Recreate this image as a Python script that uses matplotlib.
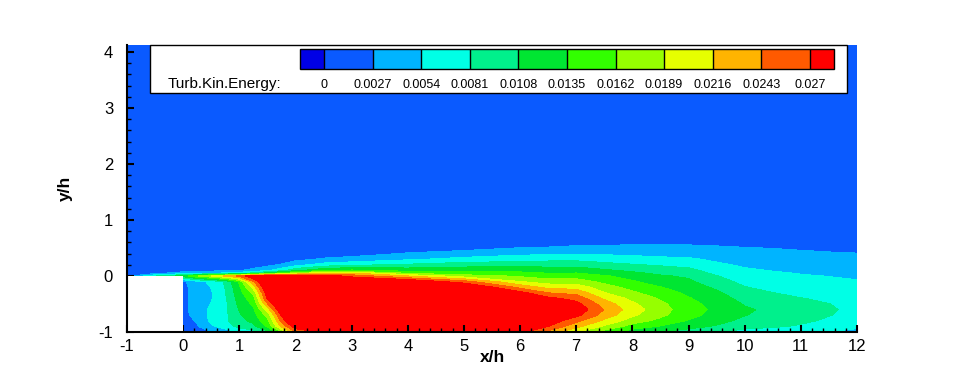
import numpy as np
import matplotlib
matplotlib.use("Agg")
import matplotlib.pyplot as plt
from matplotlib.colors import ListedColormap, BoundaryNorm
from matplotlib.patches import Rectangle
from matplotlib.ticker import MultipleLocator

plt.rcParams['font.family'] = ['Liberation Sans', 'DejaVu Sans']

# ---------------- data (TKE, units of 1e-3) ----------------
x_nodes = [-1.0, -0.5, 0.0, 0.25, 0.5, 0.75, 1.0, 1.25, 1.5, 1.75, 2.0, 2.5,
           3.0, 4.0, 5.0, 6.0, 6.5, 7.0, 7.5, 8.0, 8.5, 9.0, 9.5, 10.0, 10.5,
           11.0, 11.5, 12.0]
y_nodes = [-1.0, -0.9, -0.8, -0.7, -0.6, -0.5, -0.4, -0.3, -0.2, -0.1, 0.0,
           0.05, 0.1, 0.2, 0.3, 0.4, 0.5, 0.6, 0.8, 4.2]

# one vertical profile (bottom -> top, at y_nodes) per x station
tke_xm100 = [0, 0, 0, 0, 0, 0, 0, 0, 0, 0, 2.0, 1.0, 1.0, 1, 1, 1, 1, 1, 1, 1]
tke_xm050 = [0, 0, 0, 0, 0, 0, 0, 0, 0, 0, 8.0, 2.0, 1.0, 1, 1, 1, 1, 1, 1, 1]
tke_x000 = [1.0, 1.2, 1.5, 2.0, 2.0, 2.0, 2.0, 2.0, 2.0, 2.2, 12.0, 4.0, 1.5, 1, 1, 1, 1, 1, 1, 1]
tke_x025 = [1.5, 2.5, 3.0, 3.5, 4.0, 4.0, 4.0, 4.0, 4.0, 4.5, 16.0, 4.5, 1.8, 1, 1, 1, 1, 1, 1, 1]
tke_x050 = [2.5, 5.0, 6.0, 6.2, 6.0, 5.5, 5.2, 5.2, 5.5, 6.0, 19.0, 5.0, 2.0, 1, 1, 1, 1, 1, 1, 1]
tke_x075 = [4.0, 6.5, 7.5, 7.5, 7.5, 7.5, 7.8, 8.0, 8.2, 8.5, 22.0, 6.0, 2.2, 1, 1, 1, 1, 1, 1, 1]
tke_x100 = [6.0, 9.0, 10.0, 10.5, 11.0, 11.5, 12.0, 12.5, 13.0, 14.0, 25.0, 7.0, 2.5, 1.2, 1, 1, 1, 1, 1, 1]
tke_x125 = [7.0, 10.0, 11.5, 12.5, 13.0, 14.0, 15.0, 17.0, 20.0, 24.0, 30.0, 9.0, 3.5, 1.3, 1, 1, 1, 1, 1, 1]
tke_x150 = [10.0, 14.0, 15.5, 17.0, 20.0, 24.0, 27.5, 29.0, 31.0, 32.0, 32.0, 12.0, 5.0, 2.0, 1, 1, 1, 1, 1, 1]
tke_x175 = [16.0, 22.0, 25.0, 27.5, 30.0, 32, 32, 32, 32, 32, 32.0, 15.0, 7.0, 3.0, 1.2, 1, 1, 1, 1, 1]
tke_x200 = [24.0, 29.0, 32, 32, 32, 32, 32, 32, 32, 32, 30.0, 18.0, 10.0, 4.5, 2.0, 1.0, 1, 1, 1, 1]
tke_x250 = [28.0, 31.0, 32, 32, 32, 32, 32, 32, 32, 32, 29.0, 21.0, 13.0, 6.5, 3.0, 1.5, 1.0, 1, 1, 1]
tke_x300 = [29.0, 32, 32, 32, 32, 32, 32, 32, 32, 32, 26.0, 22.0, 14.0, 7.5, 3.5, 1.8, 1.0, 1, 1, 1]
tke_x400 = [30.0, 32, 32, 32, 32, 32, 32, 32, 32, 30.0, 21.7, 16.0, 12.5, 8.5, 5.0, 2.9, 1.5, 1.0, 1, 1]
tke_x500 = [30.0, 32, 32, 32, 32, 32, 32, 32, 31.0, 25.5, 17.5, 14.5, 12.8, 9.5, 6.2, 3.8, 1.8, 1.0, 1, 1]
tke_x600 = [28.0, 31.0, 32, 32, 32, 32, 31.0, 28.0, 23.5, 19.0, 15.8, 14.2, 12.7, 9.7, 7.0, 4.8, 2.8, 1.5, 1, 1]
tke_x650 = [23.5, 27.0, 29.0, 30.5, 31.0, 30.0, 27.8, 24.3, 20.8, 17.5, 14.8, 13.5, 12.3, 9.8, 7.3, 4.9, 2.9, 1.7, 1, 1]
tke_x700 = [19.0, 22.5, 25.0, 27.8, 29.0, 28.0, 26.0, 23.5, 20.5, 17.5, 15.0, 13.6, 12.3, 9.8, 7.4, 5.1, 3.2, 2.0, 1, 1]
tke_x750 = [15.0, 18.5, 21.0, 23.2, 24.2, 23.0, 21.2, 19.0, 17.4, 15.5, 13.8, 12.4, 11.2, 8.9, 7.0, 5.0, 3.2, 2.1, 1, 1]
tke_x800 = [12.0, 15.0, 17.6, 19.4, 20.2, 19.4, 18.2, 16.7, 15.2, 13.8, 12.5, 11.3, 10.3, 8.3, 6.5, 4.8, 3.3, 2.3, 1, 1]
tke_x850 = [10.8, 13.3, 15.4, 16.8, 17.3, 16.8, 15.9, 14.7, 13.6, 12.2, 11.1, 10.3, 9.4, 7.8, 6.0, 4.6, 3.3, 2.3, 1, 1]
tke_x900 = [9.5, 11.8, 13.3, 14.3, 14.7, 14.3, 13.7, 13.0, 12.2, 11.3, 10.4, 9.6, 8.8, 7.3, 5.8, 4.4, 3.2, 2.3, 1, 1]
tke_x950 = [8.3, 10.5, 11.8, 12.6, 12.9, 12.6, 12.1, 11.3, 10.3, 9.0, 8.2, 7.5, 7.0, 5.9, 4.9, 3.9, 3.0, 2.2, 1, 1]
tke_x1000 = [7.0, 9.0, 10.0, 10.9, 11.2, 10.6, 9.8, 9.0, 8.2, 7.5, 6.8, 6.3, 5.8, 5.0, 4.4, 3.6, 2.8, 2.0, 1, 1]
tke_x1050 = [6.5, 8.5, 9.4, 10.0, 10.2, 9.6, 8.9, 8.15, 7.4, 6.7, 6.1, 5.7, 5.3, 4.6, 3.9, 3.3, 2.65, 2.0, 1, 1]
tke_x1100 = [6.0, 7.8, 8.6, 9.1, 9.3, 8.8, 8.2, 7.4, 6.8, 6.2, 5.6, 5.3, 5.0, 4.3, 3.6, 3.0, 2.5, 2.0, 1, 1]
tke_x1150 = [5.3, 6.9, 7.7, 8.2, 8.4, 8.15, 7.6, 7.0, 6.4, 5.85, 5.35, 5.1, 4.8, 4.1, 3.4, 2.85, 2.35, 1.9, 1, 1]
tke_x1200 = [4.5, 6.0, 6.8, 7.3, 7.5, 7.3, 7.0, 6.5, 6.0, 5.5, 5.2, 4.9, 4.6, 3.9, 3.2, 2.75, 2.2, 1.8, 1, 1]

levels = [0.0, 0.0027, 0.0054, 0.0081, 0.0108, 0.0135, 0.0162, 0.0189,
          0.0216, 0.0243, 0.027]
level_labels = ['0', '0.0027', '0.0054', '0.0081', '0.0108', '0.0135', '0.0162',
                '0.0189', '0.0216', '0.0243', '0.027']
band_colors = ['#0000e6', '#0a5aff', '#00b4ff', '#00ffe6', '#00f08c', '#00e632',
               '#32ff00', '#96ff00', '#e6ff00', '#ffb400', '#ff5a00', '#ff0000']
legend_title = 'Turb.Kin.Energy:'

xticks = [-1, 0, 1, 2, 3, 4, 5, 6, 7, 8, 9, 10, 11, 12]
yticks = [-1, 0, 1, 2, 3, 4]

# ---------------- figure ----------------
W, H = 975, 376
fig = plt.figure(figsize=(W / 100, H / 100), dpi=100)
ax = fig.add_axes([127 / W, 44 / H, 730 / W, 287 / H])

profiles = [tke_xm100, tke_xm050, tke_x000, tke_x025, tke_x050, tke_x075, tke_x100,
            tke_x125, tke_x150, tke_x175, tke_x200, tke_x250, tke_x300, tke_x400,
            tke_x500, tke_x600, tke_x650, tke_x700, tke_x750, tke_x800, tke_x850,
            tke_x900, tke_x950, tke_x1000, tke_x1050, tke_x1100, tke_x1150, tke_x1200]
Z = np.array(profiles, dtype=float).T * 1e-3
Xg, Yg = np.meshgrid(x_nodes, y_nodes)

cmap = ListedColormap(band_colors[1:-1])
cmap.set_under(band_colors[0])
cmap.set_over(band_colors[-1])
norm = BoundaryNorm(levels, cmap.N)
cs = ax.contourf(Xg, Yg, Z, levels=levels, cmap=cmap, norm=norm, extend='both',
                 antialiased=False)

# step (solid body)
ax.add_patch(Rectangle((-1, -1), 1, 1, facecolor='white', edgecolor='none', zorder=3))

ax.set_xlim(-1, 12)
ax.set_ylim(-1, 4.125)
ax.spines['top'].set_visible(False)
ax.spines['right'].set_visible(False)
for s in ('left', 'bottom'):
    ax.spines[s].set_linewidth(1.5)
    ax.spines[s].set_zorder(6)
ax.set_xticks(xticks)
ax.set_yticks(yticks)
ax.set_xticklabels([str(t) for t in xticks])
ax.set_yticklabels([str(t) for t in yticks])
ax.xaxis.set_minor_locator(MultipleLocator(0.2))
ax.yaxis.set_minor_locator(MultipleLocator(0.2))
ax.tick_params(which='major', direction='in', length=5, width=1.5, labelsize=12,
               top=False, right=False)
ax.tick_params(which='minor', direction='in', length=3, width=1, top=False, right=False)
ax.tick_params(axis='x', pad=5)
ax.tick_params(axis='y', pad=10)
ax.set_xlabel('x/h', fontsize=12.5, fontweight='bold')
ax.set_ylabel('y/h', fontsize=12.5, fontweight='bold')
ax.xaxis.set_label_coords(0.5, -0.062)
ax.yaxis.set_label_coords(-0.074, 0.5)

# legend box
ax.add_patch(Rectangle((150 / W, 1 - 93 / H), 697 / W, 48 / H, transform=fig.transFigure,
                       facecolor='white', edgecolor='black', lw=1, zorder=5, clip_on=False))
cax = fig.add_axes([300 / W, 1 - 69 / H, 534 / W, 20 / H])
cb = fig.colorbar(cs, cax=cax, orientation='horizontal', extend='both',
                  extendrect=True, extendfrac=0.05, drawedges=True, ticks=levels)
cb.ax.set_xticklabels(level_labels)
cb.ax.tick_params(length=0, pad=7, labelsize=9)
cb.outline.set_linewidth(1)
cb.dividers.set_linewidth(1)
fig.text(168 / W, 1 - 84 / H, legend_title, fontsize=11, ha='left', va='center')

fig.savefig('out.png', dpi=100)
